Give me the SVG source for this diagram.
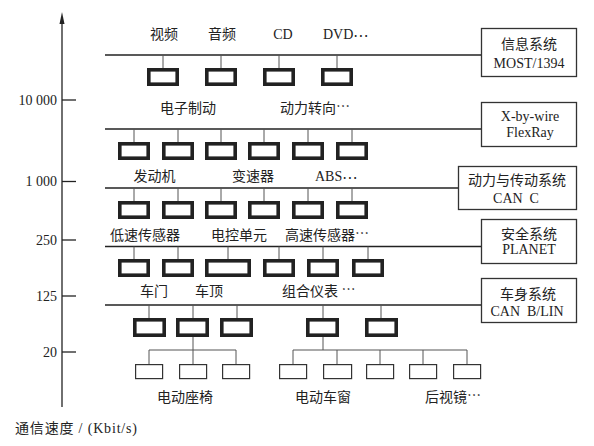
<svg xmlns="http://www.w3.org/2000/svg" width="594" height="446" viewBox="0 0 594 446">
<style>
.bus{stroke:#222;stroke-width:1.3;fill:none}
.stem{stroke:#555;stroke-width:1;fill:none}
.nb{fill:#fff;stroke:#222;stroke-width:3.6}
.sb{fill:#fff;stroke:#333;stroke-width:1.2}
.sys{fill:#fff;stroke:#333;stroke-width:1.3}
.axis{stroke:#222;stroke-width:1.3;fill:none}
text{font-family:"Liberation Serif","Noto Sans CJK SC",serif;font-size:14px;fill:#222}
.cj{font-family:"Noto Sans CJK SC",sans-serif}
.m{text-anchor:middle}
.e{text-anchor:end}
</style>
<rect width="594" height="446" fill="#fff"/>
<g id="axis">
<line class="axis" x1="62" y1="22" x2="62" y2="407"/>
<polygon points="62,12 59.5,24 64.5,24" fill="#222"/>
<line class="axis" x1="62" y1="100" x2="76" y2="100"/>
<line class="axis" x1="62" y1="181.5" x2="76" y2="181.5"/>
<line class="axis" x1="62" y1="240" x2="76" y2="240"/>
<line class="axis" x1="62" y1="296" x2="76" y2="296"/>
<line class="axis" x1="62" y1="352" x2="76" y2="352"/>
<text class="e" x="57" y="105">10 000</text>
<text class="e" x="57" y="186">1 000</text>
<text class="e" x="57" y="245">250</text>
<text class="e" x="57" y="301">125</text>
<text class="e" x="57" y="357">20</text>
<text x="15" y="433" textLength="122" lengthAdjust="spacing">通信速度 / (Kbit/s)</text>
</g>
<g id="connectors">
<line class="bus" x1="105" y1="55" x2="481" y2="55"/>
<line class="bus" x1="105" y1="129" x2="481" y2="129"/>
<line class="bus" x1="105" y1="188" x2="458" y2="188"/>
<line class="bus" x1="105" y1="246.5" x2="481" y2="246.5"/>
<line class="bus" x1="105" y1="305" x2="481" y2="305"/>
<path class="stem" d="M163,55V68M221,55V68M279,55V68M337,55V68"/>
<path class="stem" d="M134,129V142M178,129V142M221,129V142M264,129V142M308,129V142M352,129V142"/>
<path class="stem" d="M134,188V201M178,188V201M221,188V201M264,188V201M308,188V201M352,188V201"/>
<path class="stem" d="M134,246.5V259M178,246.5V259M228,246.5V259M279,246.5V259M323,246.5V259M368,246.5V259"/>
<path class="stem" d="M149,305V318M193,305V318M237,305V318M323,305V318M381,305V318"/>
<path class="stem" d="M193,337V350M149,350H236M149,350V364M193,350V364M236,350V364"/>
<path class="stem" d="M323,337V350M293,350H467M293,350V364M337,350V364M380,350V364M423,350V364M467,350V364"/>
</g>
<g id="sys-info">
<rect class="sys" x="481.5" y="28.5" width="95" height="48"/>
<text class="m" x="529" y="49">信息系统</text>
<text class="m" x="529" y="68">MOST/1394</text>
</g>
<g id="sys-xbywire">
<rect class="sys" x="481.5" y="102.5" width="95" height="44"/>
<text class="m" x="530" y="121">X-by-wire</text>
<text class="m" x="530" y="137">FlexRay</text>
</g>
<g id="sys-power">
<rect class="sys" x="458.5" y="166.5" width="118" height="43"/>
<text class="m" x="517" y="185">动力与传动系统</text>
<text class="m" x="516" y="203" xml:space="preserve">CAN  C</text>
</g>
<g id="sys-safety">
<rect class="sys" x="481.5" y="219.5" width="95" height="44"/>
<text class="m" x="529" y="239">安全系统</text>
<text class="m" x="529" y="254">PLANET</text>
</g>
<g id="sys-body">
<rect class="sys" x="481.5" y="278.5" width="95" height="44"/>
<text class="m" x="528" y="299">车身系统</text>
<text class="m" x="527" y="316" xml:space="preserve">CAN  B/LIN</text>
</g>
<g id="row1">
<rect class="nb" x="148.8" y="69.8" width="28.4" height="14.4"/>
<rect class="nb" x="206.8" y="69.8" width="28.4" height="14.4"/>
<rect class="nb" x="264.8" y="69.8" width="28.4" height="14.4"/>
<rect class="nb" x="322.8" y="69.8" width="28.4" height="14.4"/>
<text class="m" x="164" y="39">视频</text>
<text class="m" x="222" y="39">音频</text>
<text class="m" x="283" y="39">CD</text>
<text x="323" y="39">DVD<tspan class="cj" dy="-2">…</tspan></text>
</g>
<g id="row2">
<rect class="nb" x="119.8" y="143.8" width="28.4" height="14.4"/>
<rect class="nb" x="163.8" y="143.8" width="28.4" height="14.4"/>
<rect class="nb" x="206.8" y="143.8" width="28.4" height="14.4"/>
<rect class="nb" x="249.8" y="143.8" width="28.4" height="14.4"/>
<rect class="nb" x="293.8" y="143.8" width="28.4" height="14.4"/>
<rect class="nb" x="337.8" y="143.8" width="28.4" height="14.4"/>
<text class="m" x="188" y="113">电子制动</text>
<text x="280" y="113">动力转向<tspan class="cj" dy="-2">…</tspan></text>
</g>
<g id="row3">
<rect class="nb" x="119.8" y="202.8" width="28.4" height="14.4"/>
<rect class="nb" x="163.8" y="202.8" width="28.4" height="14.4"/>
<rect class="nb" x="206.8" y="202.8" width="28.4" height="14.4"/>
<rect class="nb" x="249.8" y="202.8" width="28.4" height="14.4"/>
<rect class="nb" x="293.8" y="202.8" width="28.4" height="14.4"/>
<rect class="nb" x="337.8" y="202.8" width="28.4" height="14.4"/>
<text class="m" x="154.5" y="181">发动机</text>
<text class="m" x="253" y="181">变速器</text>
<text x="315" y="181">ABS<tspan class="cj" dy="-2">…</tspan></text>
</g>
<g id="row4">
<rect class="nb" x="119.8" y="260.8" width="28.4" height="14.4"/>
<rect class="nb" x="163.8" y="260.8" width="28.4" height="14.4"/>
<rect class="nb" x="206.8" y="260.8" width="42.4" height="14.4"/>
<rect class="nb" x="264.8" y="260.8" width="28.4" height="14.4"/>
<rect class="nb" x="308.8" y="260.8" width="28.4" height="14.4"/>
<rect class="nb" x="353.8" y="260.8" width="28.4" height="14.4"/>
<text x="110" y="240">低速传感器</text>
<text x="211" y="240">电控单元</text>
<text x="285" y="240">高速传感器<tspan class="cj" dy="-2">…</tspan></text>
</g>
<g id="row5">
<rect class="nb" x="134.8" y="319.8" width="29.4" height="15.4"/>
<rect class="nb" x="177.8" y="319.8" width="29.4" height="15.4"/>
<rect class="nb" x="221.8" y="319.8" width="29.4" height="15.4"/>
<rect class="nb" x="307.8" y="319.8" width="29.4" height="15.4"/>
<rect class="nb" x="366.8" y="319.8" width="29.4" height="15.4"/>
<text x="140" y="296">车门</text>
<text x="195" y="296">车顶</text>
<text x="282" y="296">组合仪表 <tspan class="cj" dy="-2">…</tspan></text>
</g>
<g id="row6">
<rect class="sb" x="135.6" y="364.6" width="27" height="14"/>
<rect class="sb" x="179.6" y="364.6" width="27" height="14"/>
<rect class="sb" x="222.6" y="364.6" width="27" height="14"/>
<rect class="sb" x="279.6" y="364.6" width="27" height="14"/>
<rect class="sb" x="323.6" y="364.6" width="28" height="14"/>
<rect class="sb" x="366.6" y="364.6" width="27" height="14"/>
<rect class="sb" x="409.6" y="364.6" width="27" height="14"/>
<rect class="sb" x="453.6" y="364.6" width="27" height="14"/>
<text x="157" y="402">电动座椅</text>
<text x="295" y="402">电动车窗</text>
<text x="425" y="402">后视镜<tspan class="cj" dy="-2">…</tspan></text>
</g>
</svg>
